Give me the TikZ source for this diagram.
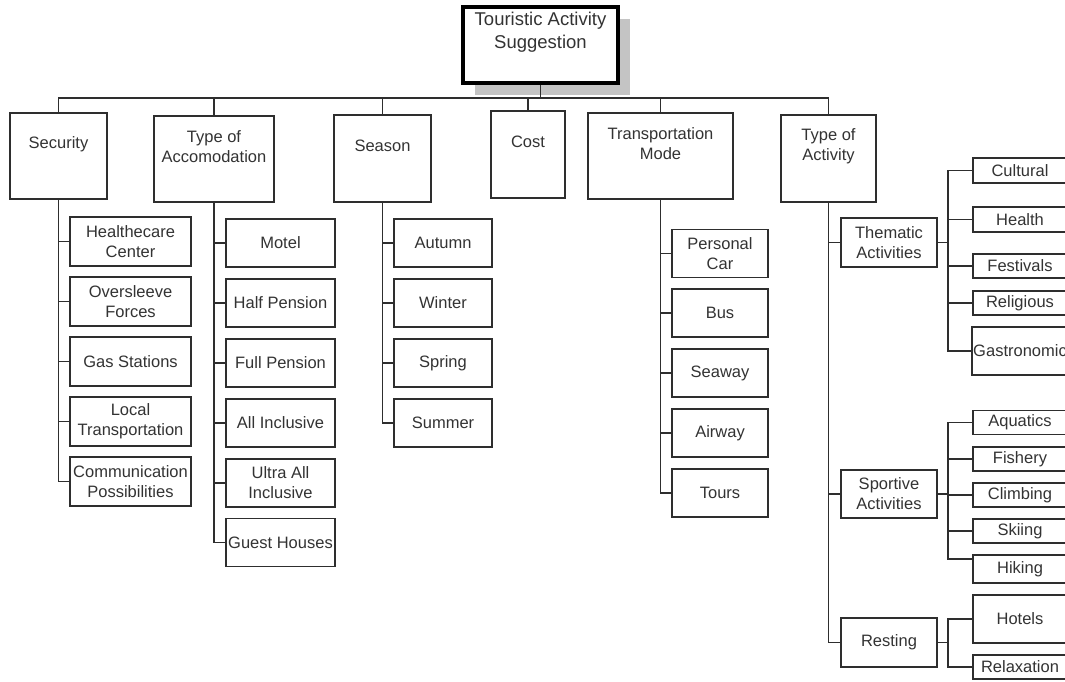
\documentclass[tikz,border=0pt]{standalone}
\usepackage{fontspec}
\setmainfont{Liberation Sans}
\usetikzlibrary{shadows}
\definecolor{linec}{HTML}{2E2E2E}
\definecolor{txtc}{HTML}{333333}
\definecolor{shadc}{HTML}{C4C4C4}
\tikzset{
  box/.style={draw=linec, line width=1.9pt, fill=white, inner sep=1pt, align=center, text=txtc, font=\fontsize{16.5}{20}\selectfont},
  lbl/.style={align=center, text=txtc, font=\fontsize{16.5}{20}\selectfont, inner sep=0pt},
  toplbl/.style={label={[lbl,anchor=center,yshift=-32pt]north:{#1}}},
  conn/.style={draw=linec, line width=1.9pt},
  rootbox/.style={draw=black, line width=3.5pt, fill=white,
    drop shadow={shadow xshift=12pt, shadow yshift=-12pt, opacity=1, fill=shadc, draw=none}},
  rootlbl/.style={align=center, text=txtc, font=\fontsize{18.5}{23}\selectfont, inner sep=0pt},
}
\begin{document}
\begin{tikzpicture}[x=1pt,y=-1pt]
\useasboundingbox (0,0) rectangle (1065,681);
\clip (0,0) rectangle (1065,681);

% root
\node[rootbox, minimum width=155pt, minimum height=76pt,
  label={[rootlbl,anchor=center,yshift=-26.5pt]north:{Touristic Activity\\Suggestion}}] (root) at (540.5,45) {};

% level 1
\node[box, minimum width=97pt, minimum height=86pt, toplbl={Security}] (sec) at (58.5,156) {};
\node[box, minimum width=120pt, minimum height=86pt, toplbl={Type of\\Accomodation}] (acc) at (214,159) {};
\node[box, minimum width=97pt, minimum height=87pt, toplbl={Season}] (sea) at (382.5,158.5) {};
\node[box, minimum width=74pt, minimum height=87pt, toplbl={Cost}] (cost) at (528,154.5) {};
\node[box, minimum width=145pt, minimum height=86pt, toplbl={Transportation\\Mode}] (tra) at (660.5,156) {};
\node[box, minimum width=95pt, minimum height=87pt, toplbl={Type of\\Activity}] (act) at (828.5,158.5) {};

% bus
\coordinate (bus) at (540.5,98);
\draw[conn] (root.south) -- (bus);
\foreach \n in {sec,acc,sea,cost,tra,act} \draw[conn] (bus) -| (\n.north);

% Security children
\begin{scope}[every node/.style={box, minimum width=121pt, minimum height=49pt}]
\node (hc) at (130.5,241.5) {Healthecare\\Center};
\node (of) at (130.5,301.5) {Oversleeve\\Forces};
\node (gs) at (130.5,361.5) {Gas Stations};
\node (lt) at (130.5,421.5) {Local\\Transportation};
\node (cp) at (130.5,481.5) {Communication\\Possibilities};
\end{scope}
\foreach \n in {hc,of,gs,lt,cp} \draw[conn] (sec.south) |- (\n.west);

% Accommodation children
\begin{scope}[every node/.style={box, minimum width=109pt, minimum height=48pt}]
\node (mo) at (280.5,243) {Motel};
\node (hp) at (280.5,303) {Half Pension};
\node (fp) at (280.5,363) {Full Pension};
\node (ai) at (280.5,423) {All Inclusive};
\node (ua) at (280.5,483) {Ultra All\\Inclusive};
\node (gh) at (280.5,542.5) {Guest Houses};
\end{scope}
\foreach \n in {mo,hp,fp,ai,ua,gh} \draw[conn] (acc.south) |- (\n.west);

% Season children
\begin{scope}[every node/.style={box, minimum width=98pt, minimum height=48pt}]
\node (au) at (443,243) {Autumn};
\node (wi) at (443,303) {Winter};
\node (sp) at (443,363) {Spring};
\node (su) at (443,423) {Summer};
\end{scope}
\foreach \n in {au,wi,sp,su} \draw[conn] (sea.south) |- (\n.west);

% Transportation children
\begin{scope}[every node/.style={box, minimum width=96pt, minimum height=48pt}]
\node (pc) at (720,253.5) {Personal\\Car};
\node (bu) at (720,313) {Bus};
\node (se) at (720,373) {Seaway};
\node (ai2) at (720,433) {Airway};
\node (to) at (720,493) {Tours};
\end{scope}
\foreach \n in {pc,bu,se,ai2,to} \draw[conn] (tra.south) |- (\n.west);

% Activity children
\begin{scope}[every node/.style={box, minimum width=96pt}]
\node[minimum height=49pt] (th) at (889,242.5) {Thematic\\Activities};
\node[minimum height=48pt] (spo) at (889,494) {Sportive\\Activities};
\node[minimum height=49pt] (re) at (889,642.5) {Resting};
\end{scope}
\foreach \n in {th,spo,re} \draw[conn] (act.south) |- (\n.west);

% leaves
\begin{scope}[every node/.style={box, minimum width=94pt}]
\node[minimum height=25pt] (cul) at (1020,170.5) {Cultural};
\node[minimum height=25pt] (hea) at (1020,219.5) {Health};
\node[minimum height=24pt] (fes) at (1020,266) {Festivals};
\node[minimum height=24pt] (rel) at (1020,303) {Religious};
\node[minimum height=48pt] (gas) at (1020,351) {Gastronomic};
\node[minimum height=24pt] (aqu) at (1020,422.5) {Aquatics};
\node[minimum height=24pt] (fis) at (1020,459) {Fishery};
\node[minimum height=24pt] (cli) at (1020,495) {Climbing};
\node[minimum height=24pt] (ski) at (1020,531) {Skiing};
\node[minimum height=28pt] (hik) at (1020,569) {Hiking};
\node[minimum height=48pt] (hot) at (1020,619) {Hotels};
\node[minimum height=24pt] (rlx) at (1020,667) {Relaxation};
\end{scope}

\coordinate (tsp) at (948,242.5);
\draw[conn] (th.east) -- (th.east -| tsp);
\foreach \n in {cul,hea,fes,rel,gas} \draw[conn] (\n.west) -| (th.east -| tsp);

\draw[conn] (spo.east) -- (spo.east -| tsp);
\coordinate (hikc) at ([yshift=10pt]hik.west);
\foreach \n in {aqu.west,fis.west,cli.west,ski.west,hikc} \draw[conn] (\n) -| (spo.east -| tsp);

\draw[conn] (re.east) -- (re.east -| tsp);
\foreach \n in {hot,rlx} \draw[conn] (\n.west) -| (re.east -| tsp);
\end{tikzpicture}
\end{document}
